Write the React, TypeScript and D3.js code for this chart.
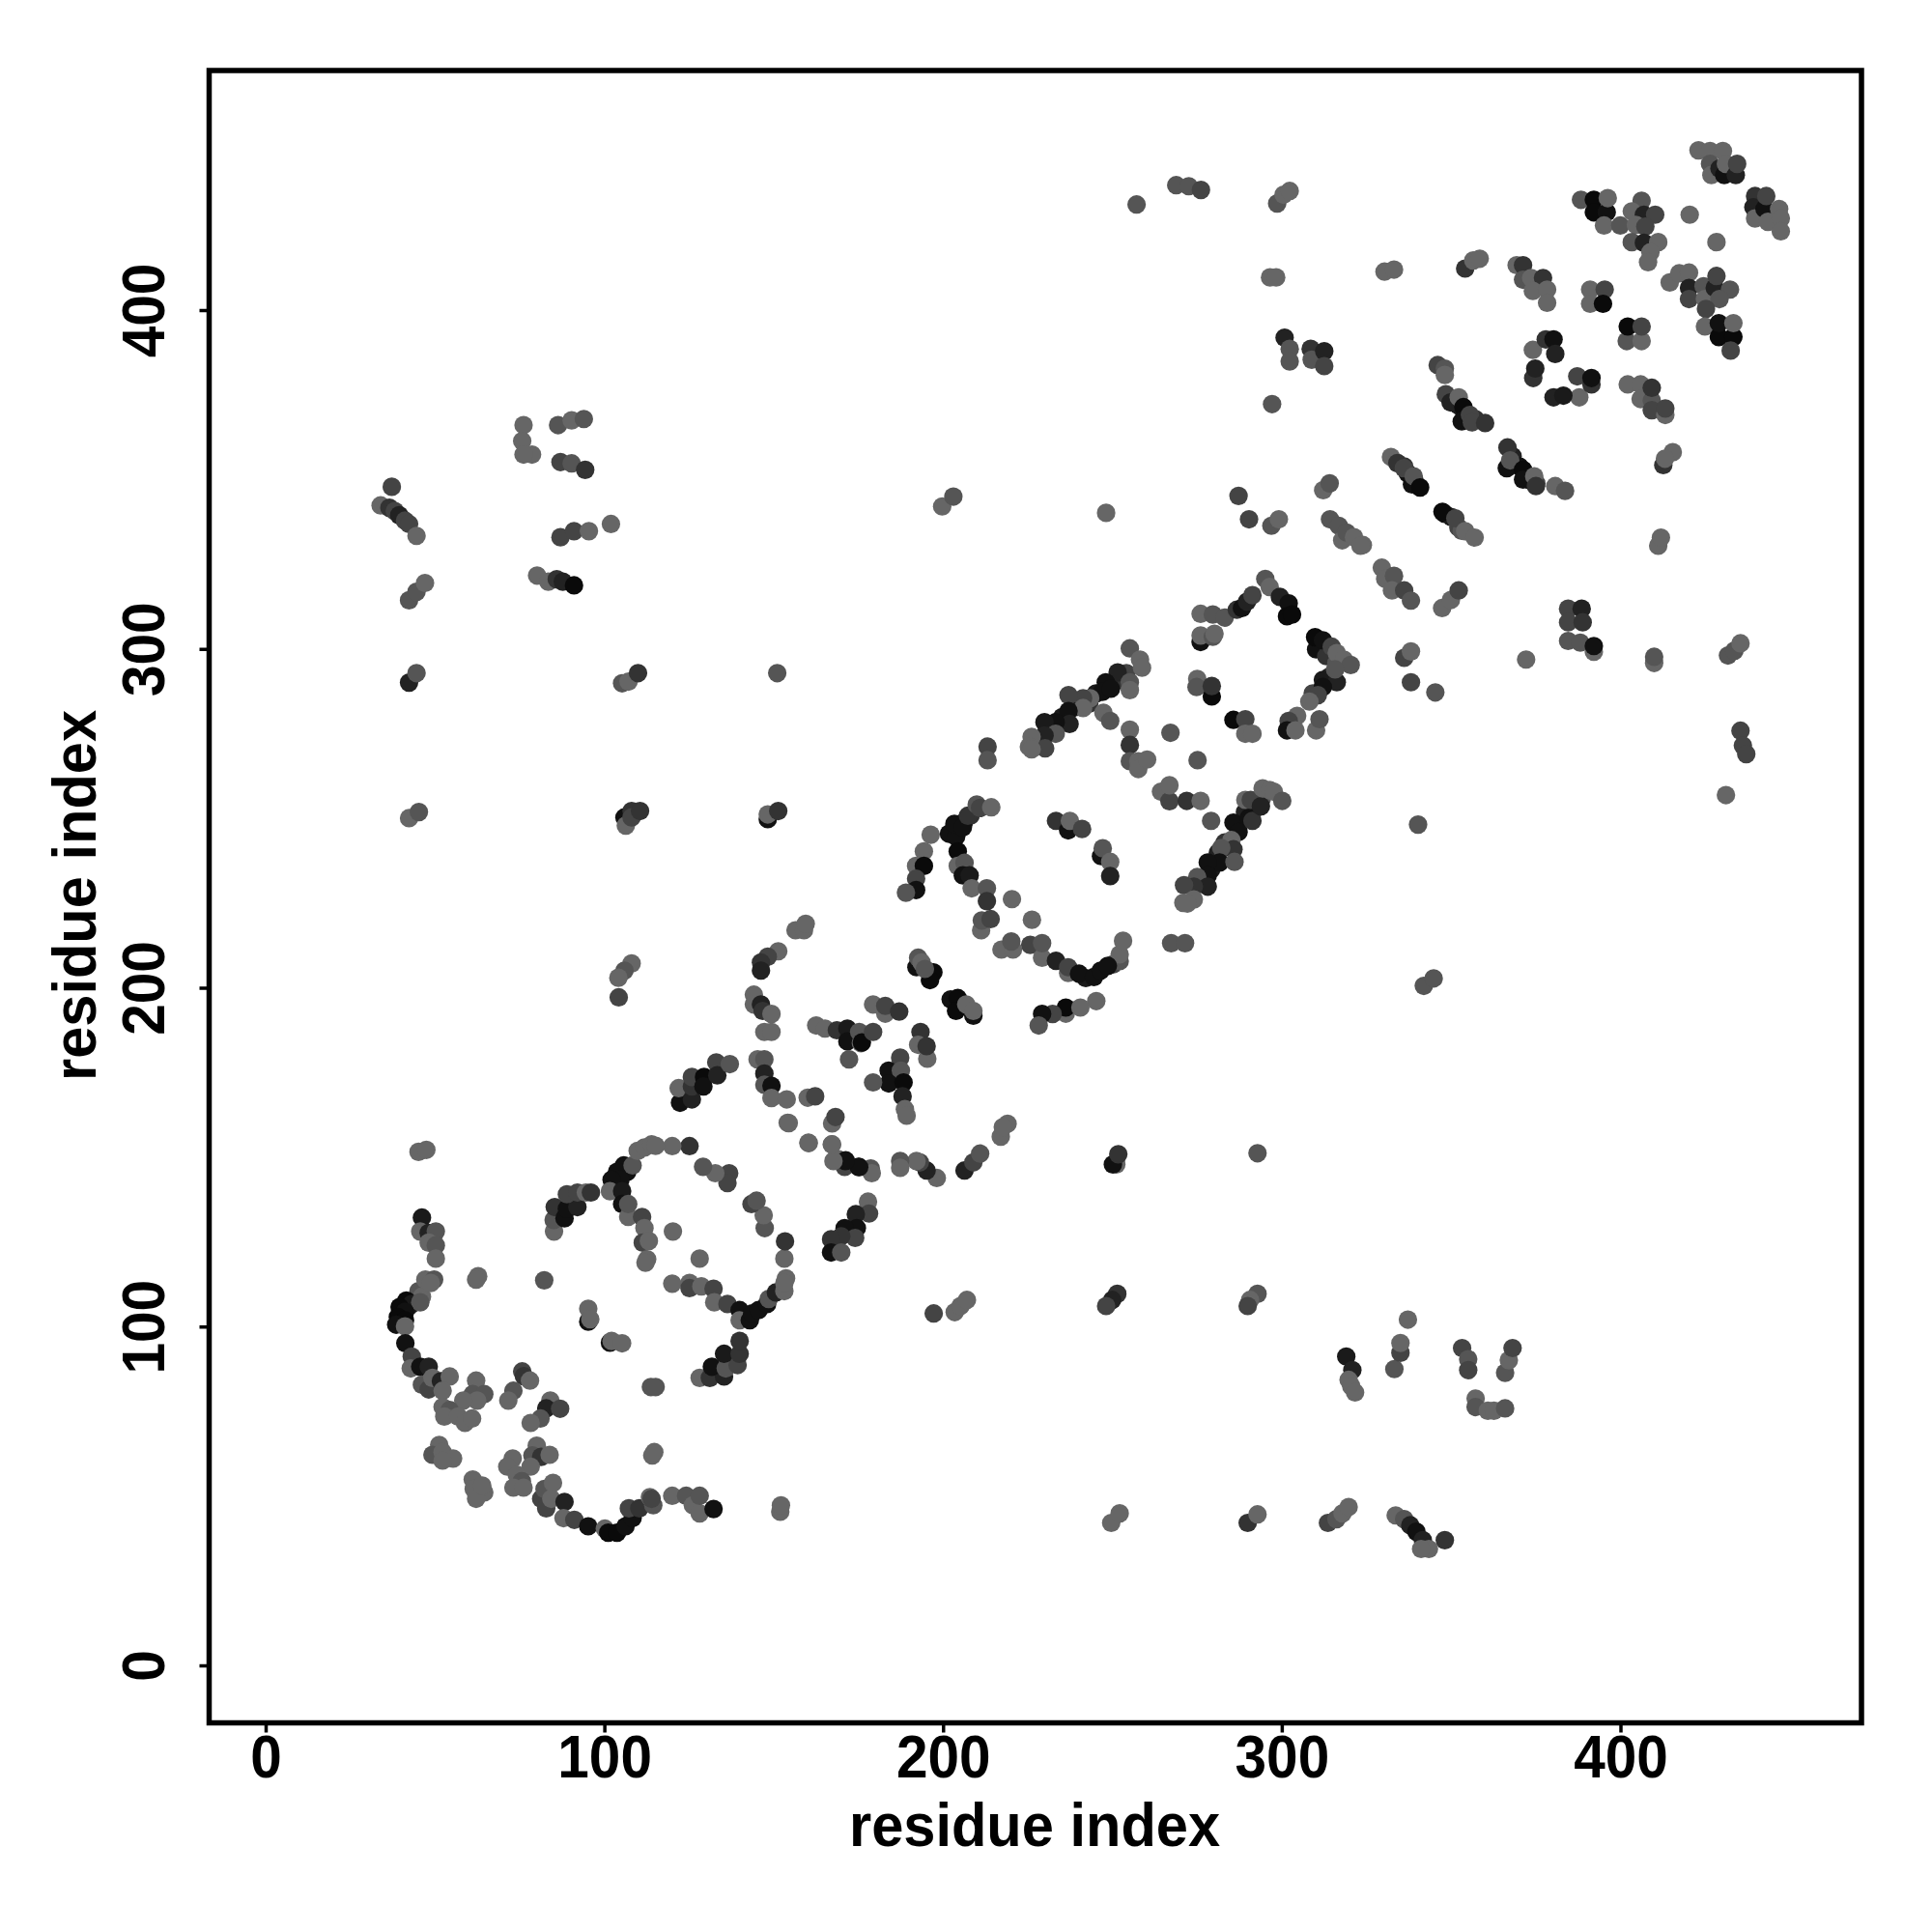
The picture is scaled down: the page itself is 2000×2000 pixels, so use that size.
import React from "react";
import * as d3 from "d3";

type P = [number, number, number];
const xTicks = [0, 100, 200, 300, 400];
const yTicks = [0, 100, 200, 300, 400];
const axisLabel = "residue index";

// [residue x, residue y, grey level]
const denseBase: P[] = [
[40,104,10],[42,106,17],[44,108,34],[283,243,51],[287,248,17],[289,252,34],[292,253,51],[294,256,85],[281,240,34],[279,235,26],
[250,290,34],[252,291,51],[254,293,68],[245,287,26],[243,284,51],[239,283,34],[235,280,26],
[310,300,17],[313,298,51],[316,296,85],[314,292,34],[312,291,26],[309,287,68],
[337,352,17],[339,350,34],[336,354,51],[334,355,85],[348,340,17],[350,339,26],[352,336,68],[353,335,85],
[350,373,17],[352,372,26],[354,370,17],[357,368,51],[368,357,34],[370,354,17],[373,350,26],[375,349,68],
[204,246,17],[206,249,17],[208,251,51],[242,203,26],[250,207,68],[252,208,85],[252,210,102],[253,214,102],
];
const lowerLeftArc: P[] = [
[46,132.3,26],[45.5,128.2,102],[48,127.8,34],[50.1,128.2,85],[48,124.9,102],[50.1,124.1,85],[50.1,120.2,102],
[45,110.6,85],[46,109,102],[41.4,107.8,10],[43,106.8,26],[45.5,107.3,85],[39.4,105.9,10],[41,104.5,17],[38.9,103,10],[41,102,10],[38.4,100.7,17],[41,100.2,102],[47,114,102],[49.6,114,85],[48.6,113,102],
[41.1,95.2,17],[43,91.3,68],[42.7,87.8,102],[45.5,88.3,17],[48,88.3,34],[46,83,85],[48,81.6,68],[49.1,85,102],[51.6,84,34],[54.2,85.4,102],[52.1,81.2,102],
[62,84.2,102],[61,80.2,85],[64.4,80.2,85],[62.3,78.3,102],[58.2,78.3,102],[52.1,76.4,102],[54.2,75.5,85],[52.6,73.6,102],[56.7,73.6,102],[58.7,71.7,102],[60.8,73,102],
[75.6,86.9,68],[76.1,85.5,51],[77.9,84.2,102],[73,81.2,85],[71.5,78.3,102],[83.9,78.3,102],[82.7,76,34],[86.8,75.9,68],[81,73,85],[78.1,71.7,102],
[51.1,65.2,102],[49.1,62.3,85],[52.1,63.1,102],[55.2,61.2,102],[52.1,60.6,102],[79.9,65,102],[78.6,62.1,85],[81.2,61.7,51],[83.7,62.3,102],[78.1,58.8,102],[72.8,61.2,102],[71.2,58.8,102],[74,56.4,102],[75.5,54.5,85],[73,52.6,102],[76,52.6,102],
[61,55,102],[61.3,52.2,102],[64.4,51.2,102],[62,49.3,102],[63.8,53.2,102],
[81.2,49.3,68],[82.7,46.5,68],[82.2,52.2,85],[84.7,54,102],[84.2,49.3,102],[88.1,48.4,34],[87.8,43.6,102],[91,43.1,68],[95.1,41.2,17],[100,40.5,102],[101,39.3,10],[103.6,39.3,10],[106.1,41.2,17],[108.2,43.6,17],[107.1,46.5,68],[110.2,46.5,51],[113.3,49.8,102],[114.3,47.4,85],[113.8,49.3,68],
[119.9,50.2,102],[124,50.2,85],[126,47.4,102],[128,45,102],[128,50.2,85],[132.1,46.3,17],[151.8,45.5,102],[152,47.4,102],[114,62.1,102],[114.6,63.1,102],[113.6,82.3,85],[115,82.3,85],
[82.1,113.8,85],[62.6,115,102],[62,114,102],[95.1,101.6,17],[95.1,105.4,102],[95.7,102.3,102],[101.5,95.4,17],[102,95.9,102],[105.1,95.2,102],
];
const firstRing: P[] = [
[128,85,102],[131,85,51],[135.2,85.4,34],[131.6,88.3,17],[135.7,87.8,85],[139.2,88.8,68],[135.2,92.1,26],[139.8,92.1,51],[139.8,95.9,51],
[119.9,112.8,102],[125,113,102],[125,111.5,68],[128.5,112,102],[132.1,111.3,68],[132.3,107.3,102],[136.2,106.8,68],[139.8,105,17],[139.8,102,102],[142.8,102,17],[143.5,104,17],[145.4,105,17],[147.9,106.8,17],[148.4,108.3,85],[150.5,110.2,34],[153,110.6,102],[153.5,114.4,102],[153,113,102],[153,120.2,102],[153.2,125.3,51],
[147.2,129.2,85],[146.9,133,102],[143.3,136.3,68],[144.8,137.3,85],[136.7,145.4,68],[136.2,142.5,68],[132.6,145.4,102],[129,147.3,85],[125,153.4,51],[119.9,153.4,102],
[105.6,147.7,17],[106.6,145.8,17],[103.6,145.8,17],[104.6,143.5,17],[102,143.5,17],[101.5,140.1,102],[105.1,140.1,26],[105.1,136.3,17],[106.9,132.5,102],[106.9,136.3,85],[111,132.5,68],[111.7,129.2,102],[111.2,124.9,68],[113,125.4,102],[112.5,120,102],[112,119,102],[120.1,128.2,102],[128,120.2,102],
[108.2,147.7,85],[109.7,152,102],[111.7,153,102],[113.8,153.9,102],[115,153.5,102],
[85,128.2,102],[84.9,131.6,85],[85.2,135.4,51],[88.1,132.1,17],[88.8,134.9,17],[91.9,135.4,34],[88.8,139.2,68],[91.9,139.7,68],[94.4,139.7,102],[95.9,139.7,51],
[154,160.3,102],[160.1,154.4,102],[167.1,153.9,102],[167.1,160.1,102],[168.1,162,68],[168.8,149.6,102],[170.8,147.3,68],[171.1,149.2,17],[174.9,147.3,17],[178.5,146.8,85],[178.8,145.4,102],[177.7,137,102],[178,133.5,68],[174.1,133.3,34],[174.4,129.2,17],[170.8,129.2,17],[173.9,126.3,68],[169.8,126.8,51],[166.8,125.9,51],[166.8,122,17],[169.8,122,85],
];
const middleBand: P[] = [
[105.8,250.4,17],[106.2,248,102],[107.9,252.3,51],[107.9,250.4,68],[110.4,252.3,51],[148.1,249.9,17],[148.1,251.3,102],[151.2,252.3,51],
[196.2,245.3,102],[201.6,245.6,17],[203.7,244.7,17],[203.2,248.5,17],[205.7,247.5,17],[207.2,250.9,51],[209.8,254.2,85],[210.8,253.2,68],[214.1,253.4,102],
[194.2,240.4,102],[191.9,236.1,102],[194.2,236.1,10],[191.9,232.3,68],[191.9,229,17],[188.9,228.2,85],
[204.2,240.4,10],[204.2,236.1,102],[206.2,237,85],[205.7,233.3,17],[207.7,233.3,26],[208.3,229.5,102],[212.8,229.5,85],[212.8,225.7,51],[211.1,217.1,102],[211.3,220,85],[213.9,220.4,68],[220.2,226.3,102],[226.1,220.2,102],
[233.2,249.4,51],[236.8,246.6,17],[237.3,249.4,102],[240.9,247,68],[246.5,239,17],[247,241.3,85],[249.2,237.3,102],[249.2,233.1,34],
[217.1,211.4,102],[220.5,211.4,102],[220,213.8,85],[225.6,212.8,68],[229.1,209,102],[229.1,213.3,85],[233.2,208.1,34],[236.8,204.5,102],[236.8,206.2,68],[240,204.3,17],[244.4,203.3,17],[246.4,205.2,17],[248.5,206.6,17],
[245.1,196.2,102],[236.1,192.5,102],[236.1,194.3,10],[240.4,194.3,102],[232.2,192.4,68],[229.1,192.4,17],[228.1,189,85],
[192,206.2,17],[197,204.7,10],[196,202.4,10],[192.5,209,85],[193.5,207.6,102],[194.5,205.7,85],
[202.1,196.7,17],[204.2,197.1,10],[203.7,193.3,10],[208.8,191.9,17],[206.7,195.2,102],[208.8,193.3,102],
[179.2,195.2,102],[182.8,192.5,102],[182.8,194.8,68],[186.9,193.1,51],
[162.4,189,102],[165,188.1,102],[168.5,187.6,51],[171.6,188.1,26],[171.6,184.3,17],[175.1,187.1,85],[175.6,183.8,102],[175.9,184,10],[179.2,187.1,68],[172.1,179,85],
[193.2,187.1,51],[192.5,183.3,102],[195.2,179.2,102],[195,182.9,51],
[187.2,179.5,68],[183.8,175.7,17],[187.4,175.7,85],[183.8,171.9,17],[179.2,172.2,85],[188.2,172.2,10],[187.9,168.1,34],[188.6,164.3,102],[189.1,162.4,102],
[144,198.1,102],[144,195.2,102],[146.1,195.2,34],[146.6,193.3,51],[149.2,192.4,102],[147.1,187.1,102],[149.2,187.1,102],
[145.1,179,102],[147.1,179,85],[147.1,174.8,34],[147.1,171.5,85],[149.2,171.2,17],[149.2,167.6,102],[153.7,167.2,102],[159.9,167.7,102],[162.1,168.1,68],[154.3,160.2,102],[160.2,154.3,102],
[107.9,207.3,102],[105.8,205.2,85],[104,203.1,102],[104.1,197.3,68],
[156.3,217.1,102],[158.8,217.1,102],[159.3,219,102],[151.2,210.9,102],[148.1,209.3,68],[146.1,207.6,51],[146.1,205.2,34],
[122.2,166.2,17],[121.8,170.5,102],[125.7,167.2,34],[125.7,171,51],[125.7,173.8,68],[129.3,173.8,10],[129.1,171,17],[132.9,178.1,68],[133.2,174.3,34],[136.9,177.6,85],
[216.9,156.2,102],[218.9,160,102],[217.5,159,102],[206.2,146.2,34],[208.8,148.6,68],[210.8,151.2,85],
[198,144,102],[195,146.2,34],[193,148.6,68],[192,149,102],[187.2,149,85],[187.2,147,102],[175.1,147.2,17],[171,149,17],[167.5,149,102],[167,153.9,102],[251,148,102],[250,148,17],[251.6,151,51],
];
const upperBand: P[] = [
[248,340.3,102],[287.1,345.3,68],[290.2,338.4,68],[296.8,336.5,85],[299,338.4,102],[312.1,347,102],[314,349,85],[314.1,338.4,85],[316.7,336.5,85],[317.7,332.2,102],[319,334.5,85],[321.2,333.1,102],[323.8,330.8,102],
[329.4,324.1,102],[330.4,320.8,102],[333,321.7,85],[332.4,317.4,102],[336,317.4,68],[338,314.4,85],[347.2,312.2,102],[349.8,314.6,102],[352.1,317.4,68],
[336,297.5,68],[338,299.4,102],[338,290.3,68],[345.2,287.3,85],[340.1,248.3,85],
[275.9,310.5,102],[279.5,310.3,85],[283,309.4,85],[286.6,311.7,51],[288.1,312.2,17],[289.6,314.1,34],[291.2,316,68],[295,320.8,85],[296.3,318.4,102],[299.3,315.5,34],[301.9,313.6,17],[301.4,309.8,10],[302.9,310.3,10],
[275.9,302.2,17],[275.9,304.1,102],[279.5,303.7,85],[280,304.6,102],
[309.7,303.6,10],[312,302.7,17],[314.6,300.8,68],[316.1,298.9,102],[318.2,297,102],[320.2,295.4,85],[316.1,290.3,34],[315.6,294.1,85],[312,288.9,17],[310.5,286.5,68],[308,284.6,102],[310,276.1,102],[311,279.4,85],[304.4,280.4,102],[301.9,278.9,68],[301.4,276.1,17],[303.9,276.1,102],
[274.9,291.3,102],[274.7,288.9,85],[279.2,286.1,10],[279.2,289.2,51],[285.6,279.2,10],[289.1,279.4,68],[289.1,275.1,102],[291.2,275.1,102],
[255,300.3,85],[251.4,293.2,34],[247.9,290.3,17],[246.9,287.5,17],[249.4,288.4,17],[255,290.3,85],[255,288,102],[258,297,102],[258.6,294.6,102],[243.3,285.6,102],[241.2,285.6,68],[241.2,282.7,102],[236.9,286.5,68],[236.9,281.8,17],[237.2,278,34],[233.1,278.5,17],[229.8,278.5,26],[233.1,275.1,85],[229.8,274.6,34],[230,270.8,68],[226,274.2,102],[225.2,271.3,102],[226,270.5,102],
[247.2,281.3,102],[249.2,278.9,85],[255,276.3,102],[255,271.8,51],[255,267,85],[257.5,267,102],[257.5,264.7,102],[260.1,267.5,102],[267,275.4,85],[275,267.3,85],
[264.2,258,102],[266.7,255.2,68],[266.7,259.9,102],[271.8,255.3,51],[275.9,255.3,102],
[279,249.4,85],[285.6,248.9,17],[287.1,246.1,17],[290.2,250.4,17],[291.2,249.4,51],[289.1,255.6,102],[290.7,255.6,68],[293.7,253.7,34],[294.2,259,102],[296.3,258.5,102],[297.5,258,102],[300,255.3,85],
[285,243.7,102],[285.6,241,51],[282,241.4,85],[281.5,237.1,17],[285.9,237.3,85],[278,237.1,17],[278,233.3,17],[274.9,232.8,85],[278,230,34],[273.9,230,51],[271,230.4,68],[270.8,225.2,102],[273.9,226.2,102],[272,225,102],
[267.2,213.3,85],[271.3,213.3,85],[213,271.3,68],[213,267.3,85],
];
const upperRight: P[] = [
[422.9,447.3,102],[426.3,447.1,102],[430.1,447.1,102],[426.3,443.3,85],[426.7,440,102],[429.1,441.9,34],[430.5,440,17],[431,443.3,102],[433.9,440,34],[434.3,443.3,68],
[439.6,433.8,51],[439.1,430.5,34],[439.6,427.2,102],[442.4,430,17],[442.9,433.8,68],[443.4,426.2,102],[446.7,430,102],[447.2,427.2,102],[447.2,423.4,102],
[388.2,432.7,85],[392,432.7,10],[392,429,10],[395.8,429,17],[396.1,433.2,102],[395,425.1,102],[399.8,425.1,85],
[406.1,432.4,85],[403.2,429.3,102],[406.8,428.3,34],[410.1,428.3,68],[404.4,425.3,102],[407.2,424.8,68],[403.2,420.2,85],[406.8,420,34],[411,420.2,102],[408.7,417.2,102],[408,414.3,102],[420.3,428.3,102],[428.2,420.2,102],
[414.4,408.3,102],[417.2,411,102],[420.1,411.2,102],[420.1,406.7,34],[420.1,403.4,68],[424.4,407.2,85],[424.8,403.4,102],[427.7,406.7,34],[428.2,410.2,68],[432.2,406.2,85],[429.1,403.4,85],[425.1,400.5,68],[424.8,395.3,102],
[428.9,392.2,10],[428.9,396.3,17],[433.2,392.2,10],[433.2,396.3,102],[432.4,388.2,68],
[390.9,406.2,102],[395.2,406.2,68],[390.9,402,102],[394.7,402,10],[401.7,391,85],[406.1,391,102],[402,395.3,10],[406.1,395.3,68],
[369.2,413.4,102],[371.1,413.4,51],[371.1,409.1,85],[373.5,409.6,102],[377,409.6,51],[374,405.8,102],[378.2,406.2,102],[378.2,402.3,102],
[354,412.4,51],[356.4,414.8,102],[358.3,415.3,102],[330.2,411.5,102],[333,412.1,102],
[374,388.4,102],[377.8,391.5,51],[380.1,391.5,17],[380.6,387.2,34],[374.1,380.1,51],[374.7,382.9,34],
[387.7,374.4,102],[387.1,380.6,68],[391.3,378.2,51],[391.3,380.1,17],[380.1,374.4,34],[383,374.9,26],
[402,378.2,102],[405.8,378.2,102],[405.8,373.9,102],[409.1,373.4,85],[409.1,370.6,68],[409.1,377.2,51],[413.1,369.2,102],[413.1,371.1,68],
[415.3,358.2,102],[412.5,354.4,51],[413,356.3,102],[411,330.6,102],[411.8,333,102],
[345.9,383.9,68],[348,382.9,85],[348,381,102],[348.3,375.3,68],[349.7,372.9,34],[352.1,374.4,102],[353.5,371.5,10],[353,367.3,17],[355.4,369.2,68],[356,367,68],[359.9,366.8,51],
[332.1,356.8,102],[334,355,51],[335.9,353.5,68],[338.3,348.7,17],[338.8,351.1,85],[340.7,347.8,10],
[366.5,359.6,51],[366.3,353.5,17],[367.3,355.8,85],[371.1,353,10],[371.1,350.1,17],[374.4,351.1,102],[374.9,348.2,51],[380.6,348.2,102],[383.5,346.8,85],
[347.3,340.6,10],[351.1,338.7,68],[354,334.9,102],[356.8,333,102],[323.1,330.6,102],
];
const offDiagonal: P[] = [
[257,431.3,85],[268.7,437,85],[272.4,436.7,85],[276,435.6,68],[298.5,431.6,85],[300.4,434.2,102],[302.2,435.3,102],[296.4,409.8,102],[298.2,409.8,102],
[300.7,392,34],[302.2,388.7,85],[302.2,385,85],[308.4,388.7,51],[308.7,385.5,85],[312.4,388,34],[312.4,383.6,68],[297,372.4,85],
[37.1,348,68],[33.8,342.5,102],[36.4,341.8,51],[38,340.8,68],[39.3,339.6,34],[41,338,68],[42.2,337,68],[44.4,333.5,102],
[42.2,314.5,85],[44.4,317,85],[46.9,319.6,102],[42.2,290.2,34],[44.4,293,85],[42.2,250.2,102],[45.1,252,85],
[76,366.2,102],[75.6,361.5,102],[78.5,357.5,102],[76,357.5,102],[86.2,366.2,85],[90.2,367.6,102],[93.8,368,85],[86.9,355.3,68],[90.2,354.9,85],[94.2,353,51],
[86.9,333.1,68],[90.9,334.9,68],[95.3,334.9,102],[101.8,337,102],[80,321.8,102],[83.3,320,102],[85.8,320.7,51],[87.6,320,34],[90.9,318.9,10],
[199.6,342.2,102],[202.9,345.1,85],[372,297,102],[384.4,312,68],[388.4,312,34],[384.4,308,68],[388.7,308,51],[384.4,302.5,85],[388,302,85],[392,299.3,102],[392,301,17],
[409.8,296,102],[409.8,297.8,85],[431.6,298.2,85],[433.5,299.6,85],[435.3,301.8,102],[435.3,276,68],[436,271.6,68],[437,269.1,68],[431,257,102],
[341.8,200.7,85],[344.7,202.9,85],[292.7,151.3,85],[292.7,109.8,85],[290.5,108,102],[289.8,106.2,68],[251.3,109.8,51],[249.8,108,34],[248,106.2,68],
[197.1,104,68],[203.3,104.4,102],[205,106.2,102],[206.9,108,102],
[318.9,91.3,26],[320.7,87.3,34],[319.6,84.4,102],[320.4,82.5,102],[321.5,80.7,102],[333.1,87.6,85],[334.9,92.4,68],[334.9,95.3,102],[337.1,102.2,102],
[353.1,93.8,68],[354.9,90.5,85],[354.9,87.3,68],[357.1,78.9,102],[357.1,76.4,85],[360.7,75.3,102],[362.5,75.3,102],[365.8,76,85],[365.8,86.5,85],[366.9,90.2,102],[368,93.8,68],
[333.5,44.4,102],[336,43.3,85],[337.8,41.5,34],[339.6,39.6,17],[341.5,37.1,34],[343.3,34.5,102],[341,34.5,102],[348,37.1,51],
[313.5,42.2,68],[316,43.3,85],[317.8,45,102],[319.6,46.9,102],[289.8,42.2,51],[292.7,44.7,102],[249.5,42.2,102],[252,45,102],
[150.9,293,85],[105.1,290,85],[107,290.5,102],[109.8,293,51],
[45,151.7,102],[47.3,152.3,102],
];
const groups = [denseBase, lowerLeftArc, firstRing, middleBand, upperBand, upperRight, offDiagonal];

const frame = { left: 216.5, right: 1927, top: 73, bottom: 1783.5 };
const FONT = "'Liberation Sans', Arial, sans-serif";

export default function App() {
  const x = d3.scaleLinear().domain([0, 400]).range([275.5, 1678]);
  const y = d3.scaleLinear().domain([0, 400]).range([1724.5, 321.5]);
  return (
    <svg width={2000} height={2000} style={{ position: "absolute", left: 0, top: 0, background: "#fff" }}>
      {groups.map((g, i) => (
        <g key={i}>
          {g.map((p, j) => (
            <circle key={j} cx={x(p[0])} cy={y(p[1])} r={9.6} fill={d3.rgb(p[2], p[2], p[2]).formatHex()} />
          ))}
        </g>
      ))}
      <rect x={frame.left} y={frame.top} width={frame.right - frame.left} height={frame.bottom - frame.top} fill="none" stroke="#000" strokeWidth={5.5} />
      {xTicks.map((t) => (
        <g key={t}>
          <line x1={x(t)} x2={x(t)} y1={frame.bottom} y2={frame.bottom + 10} stroke="#000" strokeWidth={3.5} />
          <text transform={`translate(${x(t)},1840) scale(1,1.07)`} textAnchor="middle" fontFamily={FONT} fontWeight={700} fontSize={58.5}>{t}</text>
        </g>
      ))}
      {yTicks.map((t) => (
        <g key={t}>
          <line x1={frame.left} x2={frame.left - 10} y1={y(t)} y2={y(t)} stroke="#000" strokeWidth={3.5} />
          <text transform={`translate(170,${y(t)}) rotate(-90) scale(1,1.07)`} textAnchor="middle" fontFamily={FONT} fontWeight={700} fontSize={58.5}>{t}</text>
        </g>
      ))}
      <text transform="translate(1071,1911) scale(1,1.05)" textAnchor="middle" fontFamily={FONT} fontWeight={700} fontSize={59.6}>{axisLabel}</text>
      <text transform="translate(99,927) rotate(-90) scale(1,1.05)" textAnchor="middle" fontFamily={FONT} fontWeight={700} fontSize={59.6}>{axisLabel}</text>
    </svg>
  );
}
